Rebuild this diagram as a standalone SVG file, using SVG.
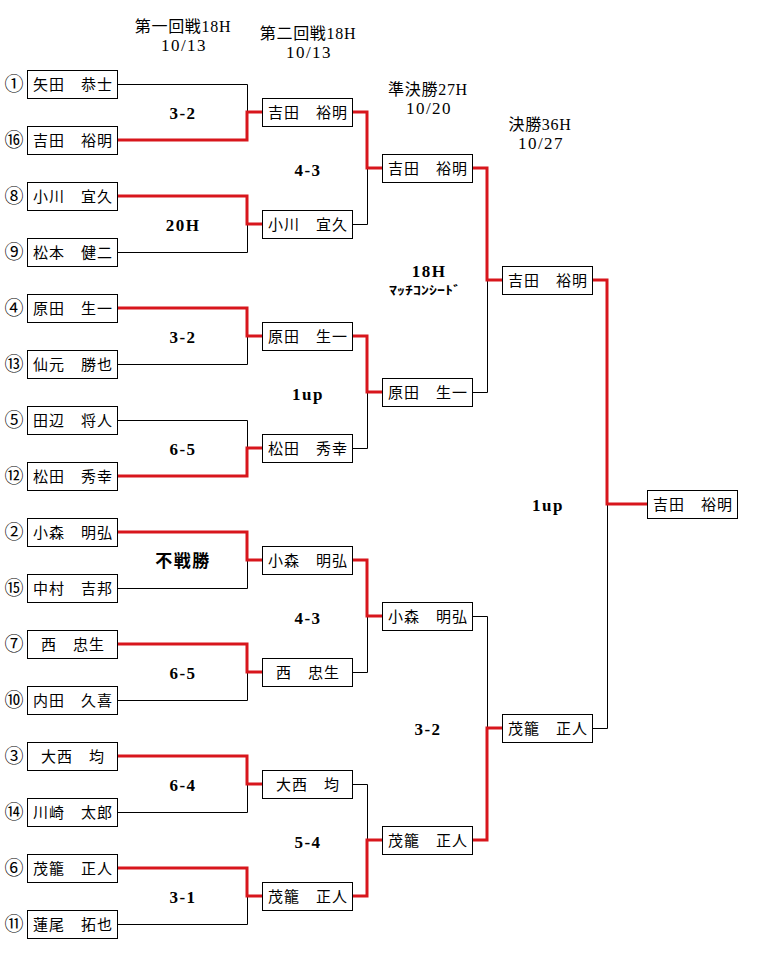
<svg xmlns="http://www.w3.org/2000/svg" width="762" height="953" viewBox="0 0 762 953">
<style>
.box{fill:#fff;stroke:#000;stroke-width:1}
.nm{font-family:"Noto Sans CJK JP","Noto Sans CJK SC",sans-serif;font-size:15px;letter-spacing:1px;text-anchor:middle;fill:#000}
.seed{font-family:"Noto Sans CJK JP","DejaVu Sans",sans-serif;font-size:19px;text-anchor:middle;fill:#000}
.l{fill:none;stroke:#000;stroke-width:1}
.w{fill:none;stroke:#d8161c;stroke-width:3}
.hd{font-family:"Liberation Serif","Noto Sans CJK JP",serif;font-size:16px;letter-spacing:0.7px;text-anchor:middle;fill:#000}
.dt{font-family:"Liberation Serif",serif;font-size:17px;letter-spacing:1.5px;text-anchor:middle;fill:#000}
.sc{font-family:"Liberation Serif","Noto Sans CJK JP",serif;font-size:17px;font-weight:bold;letter-spacing:1.5px;text-anchor:middle;fill:#000}
.sm{font-family:"Noto Sans CJK JP",sans-serif;font-size:12px;font-weight:bold;text-anchor:middle;fill:#000}
</style>
<rect width="762" height="953" fill="#fff"/>
<g id="headers">
<text class="hd" x="183" y="32">第一回戦18H</text>
<text class="dt" x="184" y="51">10/13</text>
<text class="hd" x="308" y="39">第二回戦18H</text>
<text class="dt" x="309" y="58">10/13</text>
<text class="hd" x="428" y="95">準決勝27H</text>
<text class="dt" x="429" y="114">10/20</text>
<text class="hd" x="540" y="130">決勝36H</text>
<text class="dt" x="541" y="149">10/27</text>
</g>
<g id="connectors">
<path class="l" d="M117.5,84.5 H247.5 V112"/>
<path class="w" d="M117.5,140 H247 V112 H262"/>
<path class="l" d="M117.5,252.5 H247.5 V224"/>
<path class="w" d="M117.5,196 H247 V224 H262"/>
<path class="l" d="M117.5,364.5 H247.5 V336"/>
<path class="w" d="M117.5,308 H247 V336 H262"/>
<path class="l" d="M117.5,420.5 H247.5 V448"/>
<path class="w" d="M117.5,476 H247 V448 H262"/>
<path class="l" d="M117.5,588.5 H247.5 V560"/>
<path class="w" d="M117.5,532 H247 V560 H262"/>
<path class="l" d="M117.5,700.5 H247.5 V672"/>
<path class="w" d="M117.5,644 H247 V672 H262"/>
<path class="l" d="M117.5,812.5 H247.5 V784"/>
<path class="w" d="M117.5,756 H247 V784 H262"/>
<path class="l" d="M117.5,924.5 H247.5 V896"/>
<path class="w" d="M117.5,868 H247 V896 H262"/>
<path class="l" d="M352.5,224.5 H367.5 V168"/>
<path class="w" d="M352.5,112 H367 V168 H382"/>
<path class="l" d="M352.5,448.5 H367.5 V392"/>
<path class="w" d="M352.5,336 H367 V392 H382"/>
<path class="l" d="M352.5,672.5 H367.5 V616"/>
<path class="w" d="M352.5,560 H367 V616 H382"/>
<path class="l" d="M352.5,784.5 H367.5 V840"/>
<path class="w" d="M352.5,896 H367 V840 H382"/>
<path class="l" d="M472.5,392.5 H487.5 V280"/>
<path class="w" d="M472.5,168 H487 V280 H502"/>
<path class="l" d="M472.5,616.5 H487.5 V728"/>
<path class="w" d="M472.5,840 H487 V728 H502"/>
<path class="l" d="M592.5,728.5 H607.5 V504"/>
<path class="w" d="M592.5,280 H607 V504 H647"/>
</g>
<g id="scores">
<text class="sc" x="183" y="119">3-2</text>
<text class="sc" x="183" y="231">20H</text>
<text class="sc" x="183" y="343">3-2</text>
<text class="sc" x="183" y="455">6-5</text>
<text class="sc" x="183" y="567">不戦勝</text>
<text class="sc" x="183" y="679">6-5</text>
<text class="sc" x="183" y="791">6-4</text>
<text class="sc" x="183" y="903">3-1</text>
<text class="sc" x="308" y="176">4-3</text>
<text class="sc" x="308" y="400">1up</text>
<text class="sc" x="308" y="624">4-3</text>
<text class="sc" x="308" y="848">5-4</text>
<text class="sc" x="429" y="277">18H</text>
<text class="sm" x="425" y="295" textLength="72" lengthAdjust="spacingAndGlyphs">ﾏｯﾁｺﾝｼｰﾄﾞ</text>
<text class="sc" x="428" y="735">3-2</text>
<text class="sc" x="548" y="511">1up</text>
</g>
<g id="round1">
<g id="p1"><text class="seed" x="14" y="91">①</text><rect class="box" x="27.5" y="70.5" width="90" height="28"/><text class="nm" x="73" y="90">矢田　恭士</text></g>
<g id="p16"><text class="seed" x="14" y="147">⑯</text><rect class="box" x="27.5" y="126.5" width="90" height="28"/><text class="nm" x="73" y="146">吉田　裕明</text></g>
<g id="p8"><text class="seed" x="14" y="203">⑧</text><rect class="box" x="27.5" y="182.5" width="90" height="28"/><text class="nm" x="73" y="202">小川　宜久</text></g>
<g id="p9"><text class="seed" x="14" y="259">⑨</text><rect class="box" x="27.5" y="238.5" width="90" height="28"/><text class="nm" x="73" y="258">松本　健二</text></g>
<g id="p4"><text class="seed" x="14" y="315">④</text><rect class="box" x="27.5" y="294.5" width="90" height="28"/><text class="nm" x="73" y="314">原田　生一</text></g>
<g id="p13"><text class="seed" x="14" y="371">⑬</text><rect class="box" x="27.5" y="350.5" width="90" height="28"/><text class="nm" x="73" y="370">仙元　勝也</text></g>
<g id="p5"><text class="seed" x="14" y="427">⑤</text><rect class="box" x="27.5" y="406.5" width="90" height="28"/><text class="nm" x="73" y="426">田辺　将人</text></g>
<g id="p12"><text class="seed" x="14" y="483">⑫</text><rect class="box" x="27.5" y="462.5" width="90" height="28"/><text class="nm" x="73" y="482">松田　秀幸</text></g>
<g id="p2"><text class="seed" x="14" y="539">②</text><rect class="box" x="27.5" y="518.5" width="90" height="28"/><text class="nm" x="73" y="538">小森　明弘</text></g>
<g id="p15"><text class="seed" x="14" y="595">⑮</text><rect class="box" x="27.5" y="574.5" width="90" height="28"/><text class="nm" x="73" y="594">中村　吉邦</text></g>
<g id="p7"><text class="seed" x="14" y="651">⑦</text><rect class="box" x="27.5" y="630.5" width="90" height="28"/><text class="nm" x="73" y="650">西　忠生</text></g>
<g id="p10"><text class="seed" x="14" y="707">⑩</text><rect class="box" x="27.5" y="686.5" width="90" height="28"/><text class="nm" x="73" y="706">内田　久喜</text></g>
<g id="p3"><text class="seed" x="14" y="763">③</text><rect class="box" x="27.5" y="742.5" width="90" height="28"/><text class="nm" x="73" y="762">大西　均</text></g>
<g id="p14"><text class="seed" x="14" y="819">⑭</text><rect class="box" x="27.5" y="798.5" width="90" height="28"/><text class="nm" x="73" y="818">川崎　太郎</text></g>
<g id="p6"><text class="seed" x="14" y="875">⑥</text><rect class="box" x="27.5" y="854.5" width="90" height="28"/><text class="nm" x="73" y="874">茂籠　正人</text></g>
<g id="p11"><text class="seed" x="14" y="931">⑪</text><rect class="box" x="27.5" y="910.5" width="90" height="28"/><text class="nm" x="73" y="930">蓮尾　拓也</text></g>
</g>
<g id="round2">
<g id="r2-1"><rect class="box" x="262.5" y="98.5" width="90" height="28"/><text class="nm" x="308" y="118">吉田　裕明</text></g>
<g id="r2-2"><rect class="box" x="262.5" y="210.5" width="90" height="28"/><text class="nm" x="308" y="230">小川　宜久</text></g>
<g id="r2-3"><rect class="box" x="262.5" y="322.5" width="90" height="28"/><text class="nm" x="308" y="342">原田　生一</text></g>
<g id="r2-4"><rect class="box" x="262.5" y="434.5" width="90" height="28"/><text class="nm" x="308" y="454">松田　秀幸</text></g>
<g id="r2-5"><rect class="box" x="262.5" y="546.5" width="90" height="28"/><text class="nm" x="308" y="566">小森　明弘</text></g>
<g id="r2-6"><rect class="box" x="262.5" y="658.5" width="90" height="28"/><text class="nm" x="308" y="678">西　忠生</text></g>
<g id="r2-7"><rect class="box" x="262.5" y="770.5" width="90" height="28"/><text class="nm" x="308" y="790">大西　均</text></g>
<g id="r2-8"><rect class="box" x="262.5" y="882.5" width="90" height="28"/><text class="nm" x="308" y="902">茂籠　正人</text></g>
</g>
<g id="semifinal">
<g id="r3-1"><rect class="box" x="382.5" y="154.5" width="90" height="28"/><text class="nm" x="428" y="174">吉田　裕明</text></g>
<g id="r3-2"><rect class="box" x="382.5" y="378.5" width="90" height="28"/><text class="nm" x="428" y="398">原田　生一</text></g>
<g id="r3-3"><rect class="box" x="382.5" y="602.5" width="90" height="28"/><text class="nm" x="428" y="622">小森　明弘</text></g>
<g id="r3-4"><rect class="box" x="382.5" y="826.5" width="90" height="28"/><text class="nm" x="428" y="846">茂籠　正人</text></g>
</g>
<g id="final">
<g id="r4-1"><rect class="box" x="502.5" y="266.5" width="90" height="28"/><text class="nm" x="548" y="286">吉田　裕明</text></g>
<g id="r4-2"><rect class="box" x="502.5" y="714.5" width="90" height="28"/><text class="nm" x="548" y="734">茂籠　正人</text></g>
</g>
<g id="champion">
<rect class="box" x="647.5" y="490.5" width="90" height="28"/><text class="nm" x="693" y="510">吉田　裕明</text>
</g>
</svg>
